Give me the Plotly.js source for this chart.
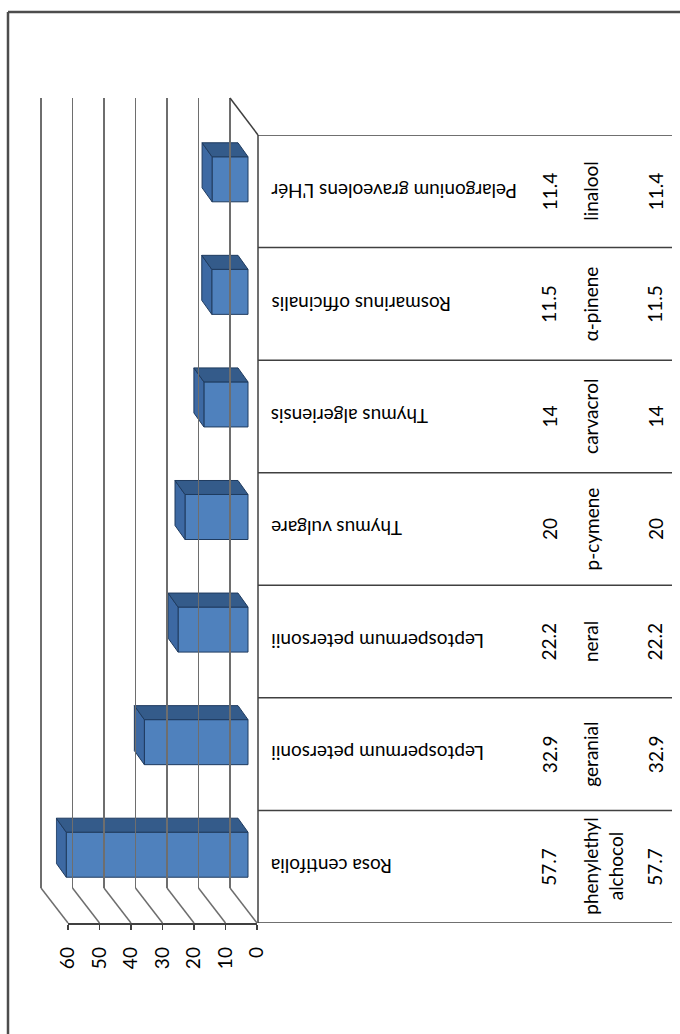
<!DOCTYPE html>
<html><head><meta charset="utf-8">
<script src="https://cdn.plot.ly/plotly-3.0.1.min.js"></script>
<style>html,body{margin:0;padding:0;background:#fff;}</style>
</head><body><div id="chart" style="width:680px;height:1034px;"></div>
<script>
// ---- data (index 0 = Rosa centifolia, drawn at the bottom) ----
const species = ["Rosa centifolia", "Leptospermum petersonii", "Leptospermum petersonii", "Thymus vulgare", "Thymus algeriensis", "Rosmarinus officinalis", "Pelargonium graveolens L'Hér"];
const compounds = ["phenylethyl<br>alchocol", "geranial", "neral", "p-cymene", "carvacrol", "α-pinene", "linalool"];
const values = [57.7, 32.9, 22.2, 20, 14, 11.5, 11.4];
const valueLabels = ["57.7", "32.9", "22.2", "20", "14", "11.5", "11.4"];
const tickValues = [0, 10, 20, 30, 40, 50, 60];

// ---- geometry / style ----
const W = 680, H = 1034;
const S = 3.15;                         // px per value unit
const FRONT = {x0: 257, top: 135, bot: 923};
const BACK = {x0: 230, top: 98, bot: 888};
const BARP = {x0: 248, top: 123, bot: 911};
const BAR_DX = 10, BAR_DY = 14;         // bar depth in px
const FONT = "Lato, 'Open Sans', sans-serif";
const FS = 19;
const idx = values.map((_, i) => i);
const nCat = values.length;
const band = (FRONT.bot - FRONT.top) / nCat;

const xDom = (x0, vmax, vmin) => [(x0 - S * vmax) / W, (x0 - S * vmin) / W];
const yDom = (top, bot) => [1 - bot / H, 1 - top / H];
const px = x => x / W, py = y => 1 - y / H;

const dxU = BAR_DX / S;       // value units (reversed axis: left = larger)
const dyU = BAR_DY / band;    // category units
const hw = 0.2;

// top and side faces computed from the data values
let topX = [], topY = [], sideX = [], sideY = [];
values.forEach((v, i) => {
  topX.push(0, v, v + dxU, dxU, 0, null);
  topY.push(i + hw, i + hw, i + hw + dyU, i + hw + dyU, i + hw, null);
  sideX.push(v, v, v + dxU, v + dxU, v, null);
  sideY.push(i - hw, i + hw, i + hw + dyU, i - hw + dyU, i - hw, null);
});

const traces = [
  {type: 'scatter', x: [0], y: [0], xaxis: 'x3', yaxis: 'y3', mode: 'markers', marker: {opacity: 0}, hoverinfo: 'skip', showlegend: false},
  {type: 'scatter', x: [0], y: [0], xaxis: 'x2', yaxis: 'y2', mode: 'markers', marker: {opacity: 0}, hoverinfo: 'skip', showlegend: false},
  {type: 'bar', orientation: 'h', x: values, y: idx, base: 0, width: 2 * hw, xaxis: 'x', yaxis: 'y',
   marker: {color: '#4F81BD', line: {color: '#1F3B5F', width: 1}}, hoverinfo: 'skip', showlegend: false},
  {type: 'scatter', x: sideX, y: sideY, xaxis: 'x', yaxis: 'y', mode: 'lines', fill: 'toself',
   fillcolor: '#3D69A3', line: {color: '#1F3B5F', width: 1}, hoverinfo: 'skip', showlegend: false},
  {type: 'scatter', x: topX, y: topY, xaxis: 'x', yaxis: 'y', mode: 'lines', fill: 'toself',
   fillcolor: '#345B8A', line: {color: '#1F3B5F', width: 1}, hoverinfo: 'skip', showlegend: false}
];

const hidden = {visible: false, fixedrange: true};
const layout = {
  width: W, height: H, autosize: false,
  margin: {l: 0, r: 0, t: 0, b: 0, pad: 0},
  paper_bgcolor: '#ffffff', plot_bgcolor: 'rgba(0,0,0,0)',
  font: {family: FONT, size: FS, color: '#000'},
  showlegend: false,
  // bar plane
  xaxis: Object.assign({domain: xDom(BARP.x0, 61, -1), range: [61, -1], anchor: 'y'}, hidden),
  yaxis: Object.assign({domain: yDom(BARP.top, BARP.bot), range: [-0.5, nCat - 0.5], anchor: 'x'}, hidden),
  // front plane (value axis with ticks)
  xaxis2: {domain: xDom(FRONT.x0, 60, 0), range: [60, 0], anchor: 'y2', side: 'bottom',
    tickvals: tickValues, ticktext: tickValues.map(String), tickangle: -90,
    ticks: 'outside', ticklen: 5, tickwidth: 1.5, tickcolor: '#404040',
    showline: true, linecolor: '#404040', linewidth: 1.5, showgrid: false, zeroline: false,
    ticklabelstandoff: 10, tickfont: {family: FONT, size: FS, color: '#000'}, fixedrange: true},
  yaxis2: Object.assign({domain: yDom(FRONT.top, FRONT.bot), range: [-0.5, nCat - 0.5], anchor: 'x2'}, hidden),
  // back wall (gridlines)
  xaxis3: {domain: xDom(BACK.x0, 61, -1), range: [61, -1], anchor: 'y3',
    tickvals: tickValues, showticklabels: false, ticks: '', showline: false, zeroline: false,
    showgrid: true, gridcolor: '#6e6e6e', gridwidth: 1.8, fixedrange: true},
  yaxis3: Object.assign({domain: yDom(BACK.top, BACK.bot), range: [0, 1], anchor: 'x3'}, hidden),
  shapes: [],
  annotations: []
};

const LC = '#404040';
// outer frame
layout.shapes.push({type: 'line', xref: 'paper', yref: 'paper', x0: px(8), x1: px(8), y0: py(12), y1: py(1034), line: {color: '#4d4d4d', width: 2.5}});
layout.shapes.push({type: 'line', xref: 'paper', yref: 'paper', x0: px(8), x1: px(680), y0: py(12), y1: py(12), line: {color: '#4d4d4d', width: 2.5}});
// floor diagonals for each tick
tickValues.forEach(v => {
  layout.shapes.push({type: 'line', xref: 'paper', yref: 'paper',
    x0: px(BACK.x0 - S * v), y0: py(BACK.bot), x1: px(FRONT.x0 - S * v), y1: py(FRONT.bot),
    line: {color: '#6e6e6e', width: 1.5}});
});
// top wall edge diagonal
layout.shapes.push({type: 'line', xref: 'paper', yref: 'paper',
  x0: px(BACK.x0), y0: py(BACK.top), x1: px(FRONT.x0 + 1), y1: py(FRONT.top), line: {color: LC, width: 1.5}});
// table left border
layout.shapes.push({type: 'line', xref: 'paper', yref: 'y2', x0: px(FRONT.x0 + 1), x1: px(FRONT.x0 + 1), y0: -0.5, y1: nCat - 0.5, line: {color: LC, width: 1.5}});
// table row lines
for (let k = 0; k <= nCat; k++) {
  layout.shapes.push({type: 'line', xref: 'paper', yref: 'y2', x0: px(FRONT.x0 + 1), x1: px(672), y0: k - 0.5, y1: k - 0.5, line: {color: LC, width: 1.5}});
}

// table text
idx.forEach(i => {
  layout.annotations.push({xref: 'paper', yref: 'y2', x: px(269), y: i, xanchor: 'left', yanchor: 'middle',
    text: species[i], textangle: 180, showarrow: false, font: {family: FONT, size: FS, color: '#000'}});
  layout.annotations.push({xref: 'paper', yref: 'y2', x: px(549), y: i, xanchor: 'center', yanchor: 'middle',
    text: valueLabels[i], textangle: -90, showarrow: false, font: {family: FONT, size: FS, color: '#000'}});
  layout.annotations.push({xref: 'paper', yref: 'y2', x: px(577), y: i, xanchor: 'left', yanchor: 'middle',
    text: compounds[i], textangle: -90, showarrow: false, align: 'center', font: {family: FONT, size: FS, color: '#000'}});
  layout.annotations.push({xref: 'paper', yref: 'y2', x: px(655), y: i, xanchor: 'center', yanchor: 'middle',
    text: valueLabels[i], textangle: -90, showarrow: false, font: {family: FONT, size: FS, color: '#000'}});
});

Plotly.newPlot('chart', traces, layout, {staticPlot: true, displayModeBar: false});
</script>
</body></html>
